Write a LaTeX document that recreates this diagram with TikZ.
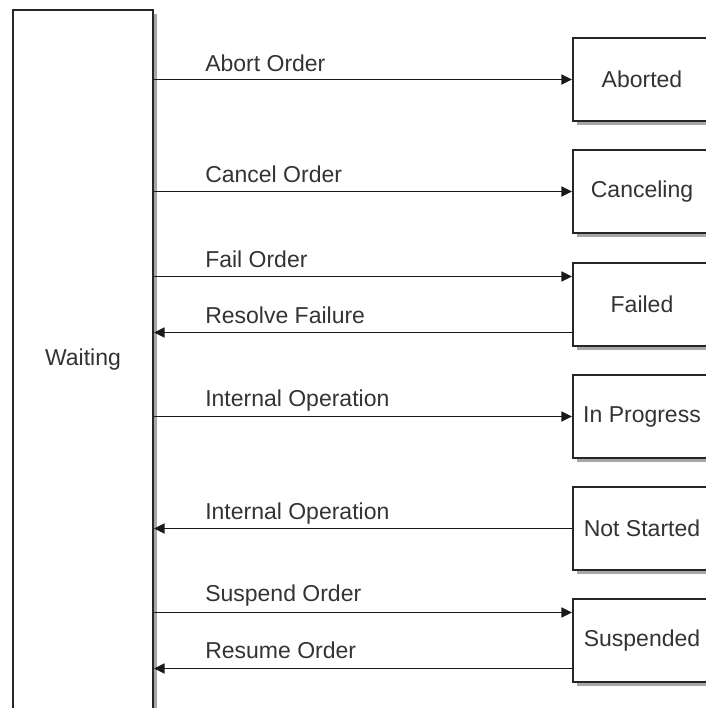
\documentclass[tikz,border=0pt]{standalone}
\usepackage{fontspec}
\setmainfont{Liberation Sans}
\usetikzlibrary{arrows.meta,shadows,calc}
\begin{document}
\begin{tikzpicture}[x=0.75pt,y=-0.75pt,
  statebox/.style={draw=black!85, line width=1.5pt, fill=white,
    drop shadow={shadow xshift=3pt, shadow yshift=-3pt, fill=black!35, opacity=1},
    text=black!80, font=\fontsize{17.25}{20}\selectfont, inner sep=0pt,
    minimum width=103.5pt, minimum height=62.25pt},
  waitbox/.style={statebox, minimum width=105pt, minimum height=525pt},
  lbl/.style={text=black!80, font=\fontsize{17.25}{20}\selectfont, inner sep=0pt, anchor=base west},
  conn/.style={draw=black!90, line width=1.3pt, -{Triangle[length=8pt,width=7.5pt]}}
]
\useasboundingbox (0,0) rectangle (706,708);
\node[waitbox] (w) at (83,360) {Waiting};
\node[statebox] (a) at (642,79.5) {Aborted};
\node[statebox] (c) at (642,191.5) {Canceling};
\node[statebox] (f) at (642,304.5) {Failed};
\node[statebox] (ip) at (642,416.5) {In Progress};
\node[statebox] (ns) at (642,528.5) {Not Started};
\node[statebox] (s) at (642,640.5) {Suspended};

\coordinate (f1) at ($(f.west)+(0,-28)$);
\coordinate (f2) at ($(f.west)+(0,28)$);
\coordinate (s1) at ($(s.west)+(0,-28)$);
\coordinate (s2) at ($(s.west)+(0,28)$);

\draw[conn] (w.east |- a.west) -- (a.west);
\draw[conn] (w.east |- c.west) -- (c.west);
\draw[conn] (w.east |- f1) -- (f1);
\draw[conn] (f2) -- (w.east |- f2);
\draw[conn] (w.east |- ip.west) -- (ip.west);
\draw[conn] (ns.west) -- (w.east |- ns.west);
\draw[conn] (w.east |- s1) -- (s1);
\draw[conn] (s2) -- (w.east |- s2);

\node[lbl] (l1) at (205,71) {Abort Order};
\node[lbl] (l2) at (205,182) {Cancel Order};
\node[lbl] (l3) at (205,267) {Fail Order};
\node[lbl] (l4) at (205,323) {Resolve Failure};
\node[lbl] (l5) at (205,406) {Internal Operation};
\node[lbl] (l6) at (205,519) {Internal Operation};
\node[lbl] (l7) at (205,601) {Suspend Order};
\node[lbl] (l8) at (205,658) {Resume Order};
\end{tikzpicture}
\end{document}
